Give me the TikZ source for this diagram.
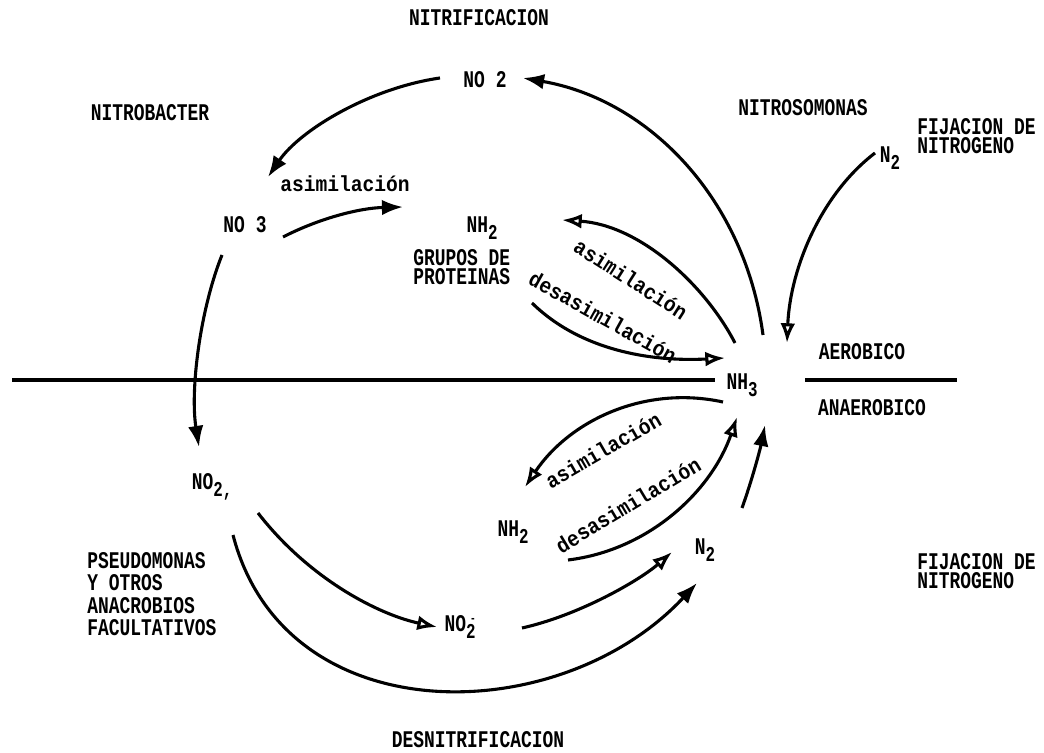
\documentclass[tikz,border=0pt]{standalone}
\usepackage{fontspec}
\newfontfamily\capsfont{Liberation Mono}[FakeStretch=0.75]
\newfontfamily\procfont{Liberation Mono}[FakeStretch=0.9]
\usetikzlibrary{arrows.meta}
\newcommand{\subidx}[1]{\raisebox{-0.55ex}{\fontsize{15}{15}\selectfont #1}}
\newcommand{\subion}{\raisebox{-0.55ex}{\fontsize{15}{15}\selectfont\rlap{\raisebox{1.45ex}{\kern0.2em\fontsize{9}{9}\selectfont -}}2}}
\tikzset{
  caps/.style={font=\capsfont\bfseries\fontsize{17}{13}\selectfont,inner sep=0pt},
  proc/.style={font=\procfont\bfseries\fontsize{15.5}{15}\selectfont,inner sep=0pt},
  flow/.style={line width=2.2pt,-{Latex[length=15pt,width=11pt]}},
  flowo/.style={line width=2.2pt,-{Latex[open,length=14pt,width=10.5pt]}},
}
\begin{document}
\begin{tikzpicture}[x=0.025cm,y=-0.025cm]
\useasboundingbox (0,0) rectangle (1044,753);
% titles and organisms
\node[caps] (nitrif) at (479,18) {NITRIFICACION};
\node[caps] (nitrobacter) at (150,113) {NITROBACTER};
\node[caps] (nitrosomonas) at (803,108) {NITROSOMONAS};
\node[caps,anchor=west,align=left] (fijtop) at (917,136) {FIJACION DE\\NITROGENO};
\node[caps,anchor=west,align=left] (grupos) at (413,267) {GRUPOS DE\\PROTEINAS};
\node[caps] (aerobico) at (862,352) {AEROBICO};
\node[caps] (anaerobico) at (872,408) {ANAEROBICO};
\node[caps,anchor=west,align=left] (pseudo) at (87,594) {PSEUDOMONAS\\[3pt]Y OTROS\\[3pt]ANACROBIOS\\[3pt]FACULTATIVOS};
\node[caps,anchor=west,align=left] (fijlow) at (917,571) {FIJACION DE\\NITROGENO};
\node[caps] (desnitr) at (478,740) {DESNITRIFICACION};
% compounds
\node[caps] (no2top) at (485,80) {NO 2};
\node[caps] (no3) at (245,225) {NO 3};
\node[caps] (n2top) at (890,158) {N\subidx{2}};
\node[caps] (nh2up) at (482,228) {NH\subidx{2}};
\node[caps] (nh3) at (742,385) {NH\subidx{3}};
\node[caps] (nh2low) at (513,532) {NH\subidx{2}};
\node[caps] (n2low) at (705,550) {N\subidx{2}};
\node[caps] (no2left) at (212,487) {NO\subidx{2,}};
\node[caps] (no2minus) at (460,627) {NO\subion};
% process labels
\node[proc] (asim1) at (345,184) {asimilación};
\node[proc,rotate=-32.5] (asim2) at (631,279) {asimilación};
\node[proc,rotate=-29] (desasim1) at (603,317) {desasimilación};
\node[proc,rotate=30] (asim3) at (603,450) {asimilación};
\node[proc,rotate=31] (desasim2) at (628,505) {desasimilación};
% aerobic / anaerobic boundary
\coordinate (bl) at (12,380);
\coordinate (br) at (715,380);
\coordinate (rl) at (805,380);
\coordinate (rr) at (957,380);
\draw[line width=3.5pt] (bl) -- (br);
\draw[line width=2.5pt] (rl) -- (rr);
% connector ends
\coordinate (c1s) at (763,335); \coordinate (c1e) at (523,78);
\coordinate (c2s) at (440,78);  \coordinate (c2e) at (268,177);
\coordinate (c3s) at (283,237); \coordinate (c3e) at (403,207);
\coordinate (c4s) at (222,255); \coordinate (c4e) at (199,447);
\coordinate (c5s) at (735,343); \coordinate (c5e) at (562,220);
\coordinate (c6s) at (532,303); \coordinate (c6e) at (725,358);
\coordinate (c7s) at (875,153); \coordinate (c7e) at (787,343);
\coordinate (c8s) at (723,402); \coordinate (c8e) at (525,487);
\coordinate (c9s) at (568,560); \coordinate (c9e) at (737,417);
\coordinate (c10s) at (742,508); \coordinate (c10e) at (765,425);
\coordinate (c11s) at (258,513); \coordinate (c11e) at (437,627);
\coordinate (c12s) at (233,535); \coordinate (c12e) at (697,583);
\coordinate (c13s) at (522,628); \coordinate (c13e) at (672,552);
% aerobic cycle
\draw[flow] (c1s) .. controls (745,200) and (650,100) .. (c1e);
\draw[flow] (c2s) .. controls (370,88) and (300,130) .. (c2e);
\draw[flow] (c3s) .. controls (320,218) and (360,208) .. (c3e);
\draw[flow] (c4s) .. controls (200,310) and (190,390) .. (c4e);
\draw[flowo] (c5s) .. controls (705,285) and (640,225) .. (c5e);
\draw[flowo] (c6s) .. controls (580,350) and (650,362) .. (c6e);
\draw[flowo] (c7s) .. controls (820,195) and (790,270) .. (c7e);
% anaerobic cycle
\draw[flowo] (c8s) .. controls (645,385) and (570,420) .. (c8e);
\draw[flowo] (c9s) .. controls (650,550) and (712,490) .. (c9e);
\draw[flow] (c10s) .. controls (752,480) and (760,450) .. (c10e);
\draw[flowo] (c11s) .. controls (310,580) and (380,615) .. (c11e);
\draw[flow] (c12s) .. controls (285,735) and (560,730) .. (c12e);
\draw[flowo] (c13s) .. controls (580,615) and (640,580) .. (c13e);
\end{tikzpicture}
\end{document}
